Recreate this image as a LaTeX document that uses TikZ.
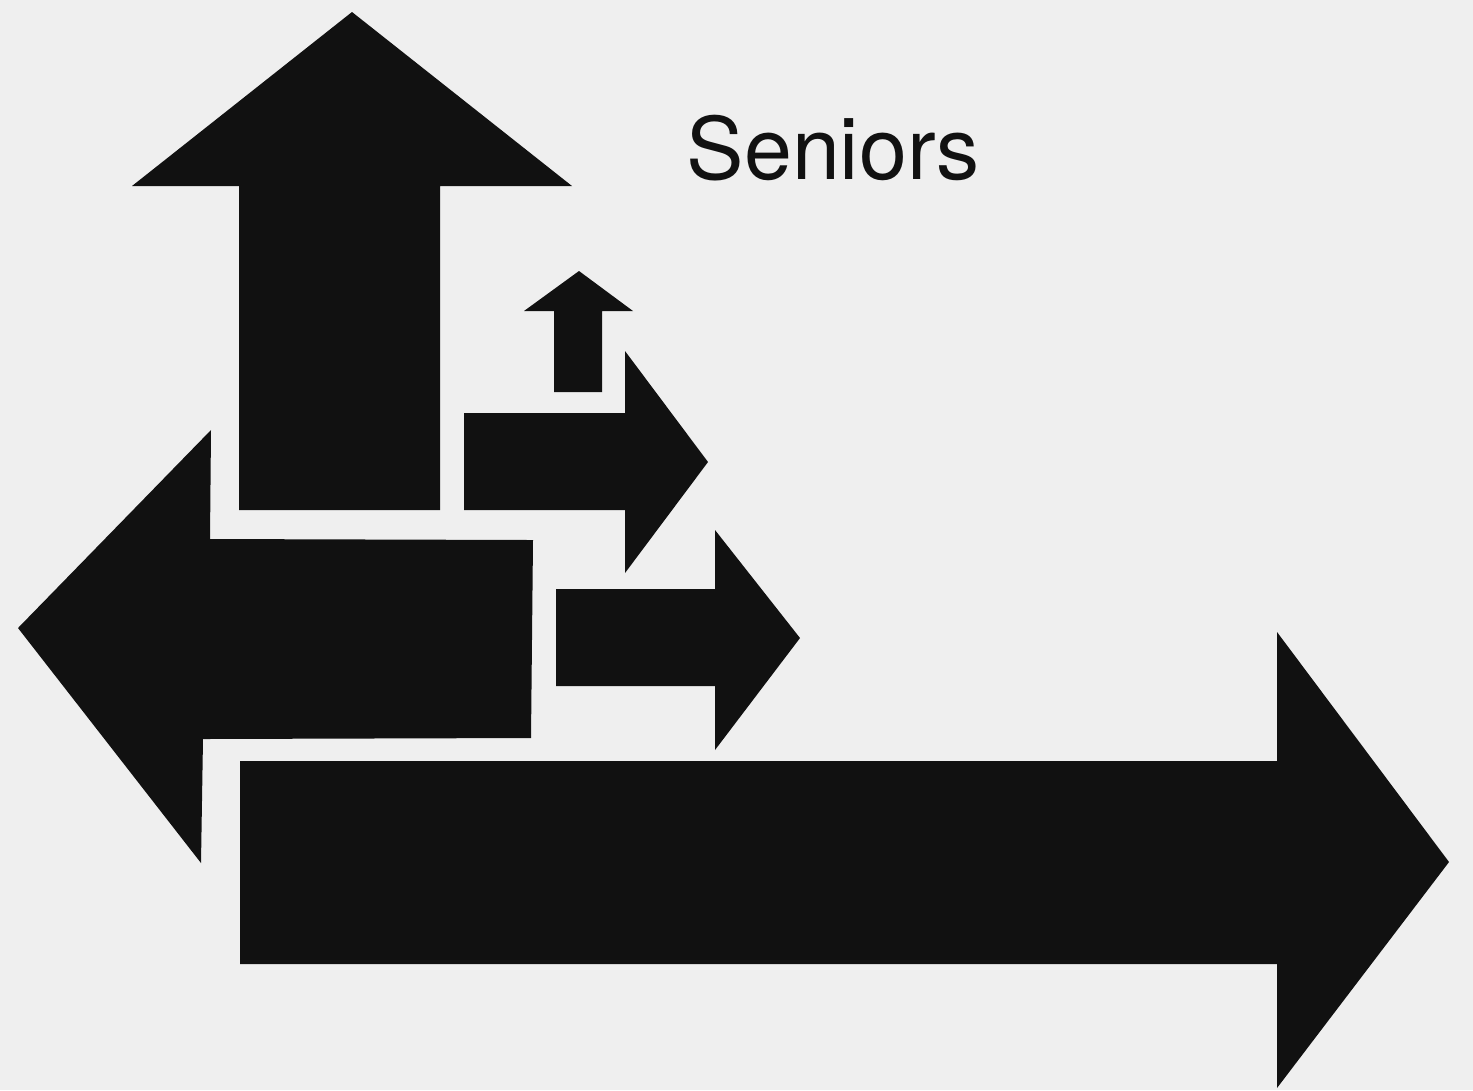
\documentclass[tikz,border=0pt]{standalone}
\usepackage{fontspec}
\setmainfont{TeX Gyre Heros}
\usepackage{tikz}
\usetikzlibrary{positioning}

\definecolor{paper}{HTML}{EFEFEF}
\definecolor{ink}{HTML}{111111}

\begin{document}
\begin{tikzpicture}[x=0.01cm, y=-0.01cm,
  blockarrow/.style={fill=ink, draw=none}]

% --- Background (fixes the page size) ---
\fill[paper] (0, 0) rectangle (1473, 1090);
\useasboundingbox (0, 0) rectangle (1473, 1090);

% --- Big up arrow ---
\fill[blockarrow] (352, 12) -- (572, 186) -- (440, 186) -- (440, 510)
  -- (239, 510) -- (239, 186) -- (132, 186) -- cycle;

% --- Small up arrow ---
\fill[blockarrow] (579, 271) -- (633, 311) -- (602, 311) -- (602, 392)
  -- (554, 392) -- (554, 311) -- (524, 311) -- cycle;

% --- Right arrows (shaft left/top/bottom, head x/top/bottom, tip) ---
\foreach \sl/\st/\sb/\hx/\ht/\hb/\tx/\ty in
  {464/413/510/625/351/573/708/462,
   556/589/686/715/530/750/800/638,
   240/761/964/1277/632/1088/1449/862} {
  \fill[blockarrow] (\tx, \ty) -- (\hx, \hb) -- (\hx, \sb) -- (\sl, \sb)
    -- (\sl, \st) -- (\hx, \st) -- (\hx, \ht) -- cycle;
}

% --- Left arrow ---
\fill[blockarrow] (18, 628) -- (211, 430) -- (210, 539) -- (533, 540)
  -- (531, 738) -- (203, 739) -- (201, 863) -- cycle;

% --- Title ---
\node[font=\fontsize{24.5}{29}\selectfont, text=ink, anchor=base west,
  inner sep=0pt] (title) at (686, 179) {Seniors};

\end{tikzpicture}
\end{document}
